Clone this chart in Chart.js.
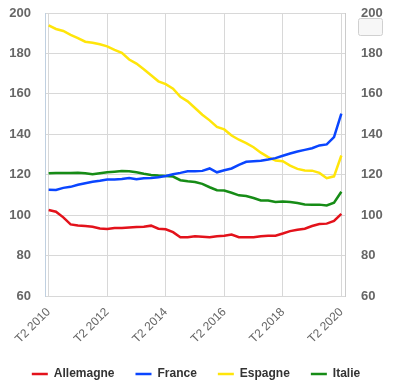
<!DOCTYPE html>
<html>
<head>
<meta charset="utf-8">
<script src="https://cdn.jsdelivr.net/npm/chart.js@4"></script>
<style>
html,body{margin:0;padding:0;background:#fff;}
#wrap{width:404px;height:387px;position:relative;}
</style>
</head>
<body>
<div id="wrap"><canvas id="chart"></canvas></div>
<script>
// quarters, T2 2010 .. T2 2020
const quarters = [
"T2 2010","T3 2010","T4 2010","T1 2011","T2 2011","T3 2011","T4 2011","T1 2012",
"T2 2012","T3 2012","T4 2012","T1 2013","T2 2013","T3 2013","T4 2013","T1 2014",
"T2 2014","T3 2014","T4 2014","T1 2015","T2 2015","T3 2015","T4 2015","T1 2016",
"T2 2016","T3 2016","T4 2016","T1 2017","T2 2017","T3 2017","T4 2017","T1 2018",
"T2 2018","T3 2018","T4 2018","T1 2019","T2 2019","T3 2019","T4 2019","T1 2020",
"T2 2020"];

const allemagne = [102.5,101.7,98.9,95.4,94.9,94.6,94.3,93.4,93.1,93.6,93.6,93.9,94.1,94.3,94.8,93.3,93.0,91.6,89.1,89.1,89.5,89.3,89.1,89.6,89.8,90.4,89.1,89.1,89.1,89.6,89.8,89.8,90.9,92.1,92.8,93.3,94.6,95.6,95.8,97.1,100.6];
const france = [112.6,112.5,113.5,114.0,115.0,115.8,116.5,117.0,117.6,117.6,117.9,118.4,117.8,118.3,118.4,118.8,119.4,120.2,120.9,121.7,121.7,121.9,123.1,121.2,122.2,123.1,124.9,126.4,126.7,126.9,127.5,128.2,129.4,130.5,131.5,132.3,133.1,134.5,135.0,138.6,150.2];
const espagne = [193.9,192.1,191.1,189.2,187.6,185.8,185.3,184.5,183.5,181.8,180.3,177.0,175.0,172.2,169.2,166.2,164.8,162.6,158.5,156.3,153.0,149.7,146.9,143.6,142.4,139.4,137.3,135.6,133.6,130.9,128.7,127.0,126.7,124.5,122.9,122.1,122.0,120.9,118.3,119.2,129.5];
const italie = [120.7,120.9,120.9,120.9,121.0,120.7,120.2,120.7,121.2,121.5,121.8,121.7,121.2,120.5,119.9,119.6,119.4,119.1,117.3,116.8,116.4,115.5,113.8,112.3,112.2,111.1,109.8,109.5,108.5,107.3,107.2,106.5,106.7,106.5,106.0,105.3,105.2,105.2,104.8,106.2,111.6];

const seriesNames = ["Allemagne","France","Espagne","Italie"];
const seriesColors = ["#e3121b","#0a45ff","#ffe50a","#168c16"];
const seriesData = [allemagne, france, espagne, italie];

const yMin = 60, yMax = 200, yStep = 20;
const xTickEvery = 8;
const font = "'Liberation Sans', Arial, sans-serif";

// small grey box in the top right corner (export button)
const menuButton = {
id:"menuButton",
afterDraw(chart){
let ctx = chart.ctx;
ctx.save();
ctx.beginPath();
ctx.roundRect(358.5,18.5,24,17,2);
ctx.fillStyle="#f7f7f7";
ctx.fill();
ctx.strokeStyle="#d0d0d0";
ctx.lineWidth=1;
ctx.stroke();
ctx.restore();
}
};

// fixed axis sizes so the plot area sits where the original has it
function fixSize(w,h){
return function(s){
if(w!=null) s.width = w;
if(h!=null) s.height = h;
s.paddingLeft = 0;
s.paddingRight = 0;
s.paddingTop = 0;
s.paddingBottom = 0;
};
}

let datasets = seriesNames.map((name,i) => ({
label:name,
data:seriesData[i],
borderColor:seriesColors[i],
backgroundColor:seriesColors[i],
borderWidth:2.5,
pointRadius:0,
pointStyle:"line",
tension:0,
yAxisID:"y"
}));

const ctx = document.getElementById("chart").getContext("2d");

let chart = new Chart(ctx,{
type:"line",
data:{
labels:quarters,
datasets:datasets
},
plugins:[menuButton],
options:{
responsive:true,
maintainAspectRatio:false,
animation:false,
layout:{
padding:{left:9,right:21,top:13,bottom:-3}
},
plugins:{
legend:{
position:"bottom",
labels:{
usePointStyle:true,
pointStyleWidth:16,
padding:21,
color:"#333",
font:{family:font,size:12,weight:"bold"}
}
},
tooltip:{enabled:false}
},
scales:{
x:{
type:"category",
offset:true,
afterFit:fixSize(null,51),
grid:{color:"#d8d8d8",drawTicks:false,offset:false},
border:{display:false},
ticks:{
autoSkip:false,
maxRotation:45,
minRotation:45,
padding:9,
color:"#666",
font:{family:font,size:12},
callback:function(val,idx){
return idx % xTickEvery === 0 ? this.getLabelForValue(val) : null;
}
}
},
y:{
position:"left",
min:yMin,
max:yMax,
afterFit:fixSize(36,null),
grid:{color:"#d8d8d8",drawTicks:false},
border:{display:true,color:"#c0d0e0"},
ticks:{
stepSize:yStep,
padding:14,
color:"#666",
font:{family:font,size:13,weight:"bold"}
}
},
y2:{
position:"right",
min:yMin,
max:yMax,
afterFit:fixSize(38,null),
grid:{drawOnChartArea:false,drawTicks:false},
border:{display:true,color:"#cccccc"},
ticks:{
stepSize:yStep,
padding:16,
color:"#666",
font:{family:font,size:13,weight:"bold"}
}
}
}
}
});
</script>
</body>
</html>
